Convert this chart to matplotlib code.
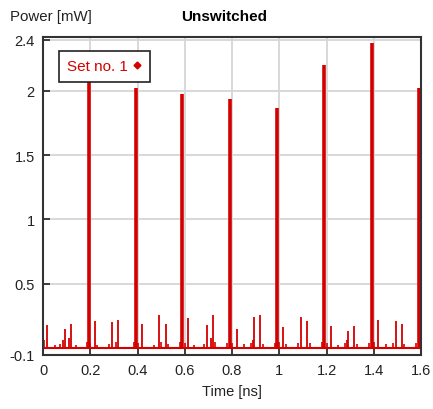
import matplotlib
matplotlib.use('Agg')
import matplotlib.pyplot as plt
from matplotlib.lines import Line2D

plt.rcParams['font.family'] = ['Liberation Sans', 'DejaVu Sans']

# main pulses (ns, mW)
main_t = [0.193, 0.392, 0.59, 0.79, 0.992, 1.189, 1.391, 1.593]
main_p = [2.20, 2.02, 1.98, 1.94, 1.87, 2.20, 2.37, 2.02]

# smaller side pulses
side_t = [0.018, 0.085, 0.093, 0.11, 0.117, 0.219, 0.29, 0.319, 0.418, 0.492,
          0.519, 0.615, 0.693, 0.712, 0.718, 0.82, 0.889, 0.894, 0.919, 1.017,
          1.092, 1.119, 1.218, 1.287, 1.292, 1.318, 1.417, 1.493, 1.518]
side_p = [0.18, 0.06, 0.15, 0.08, 0.19, 0.21, 0.20, 0.22, 0.19, 0.26,
          0.19, 0.23, 0.18, 0.08, 0.26, 0.15, 0.06, 0.24, 0.26, 0.16,
          0.24, 0.21, 0.17, 0.06, 0.13, 0.17, 0.22, 0.21, 0.19]

# tiny bumps on the baseline
tiny_t = [0.005, 0.05, 0.07, 0.14, 0.185, 0.2, 0.23, 0.28, 0.31, 0.385, 0.4,
          0.47, 0.5, 0.53, 0.58, 0.6, 0.64, 0.68, 0.73, 0.78, 0.8, 0.85,
          0.88, 0.93, 0.98, 1.0, 1.03, 1.08, 1.13, 1.18, 1.2, 1.25, 1.28,
          1.33, 1.38, 1.4, 1.45, 1.48, 1.53, 1.58]
tiny_p = [0.06, 0.02, 0.03, 0.02, 0.05, 0.04, 0.02, 0.03, 0.05, 0.05, 0.04,
          0.02, 0.05, 0.03, 0.05, 0.04, 0.02, 0.03, 0.05, 0.04, 0.04, 0.03,
          0.04, 0.03, 0.04, 0.05, 0.03, 0.04, 0.04, 0.05, 0.04, 0.02, 0.04,
          0.03, 0.04, 0.05, 0.03, 0.04, 0.03, 0.04]

xticks = [0, 0.2, 0.4, 0.6, 0.8, 1.0, 1.2, 1.4, 1.6]
xlabels = ['0', '0.2', '0.4', '0.6', '0.8', '1', '1.2', '1.4', '1.6']
yticks = [-0.055, 0.5, 1.0, 1.5, 2.0, 2.4]
ylabels = ['-0.1', '0.5', '1', '1.5', '2', '2.4']

red = '#d40000'

fig = plt.figure(figsize=(4.33, 4.10), dpi=100)
ax = fig.add_axes([43/433, 1 - 356/410, (421 - 43)/433, (356 - 38)/410])

ax.plot([0, 1.6], [0, 0], color=red, lw=1.5)
ax.vlines(tiny_t, 0, tiny_p, color=red, lw=1.2)
ax.vlines(side_t, 0, side_p, color=red, lw=1.3)
ax.vlines(main_t, 0, main_p, color=red, lw=2.6)

ax.set_xlim(0, 1.6)
ax.set_ylim(-0.055, 2.42)
ax.set_xticks(xticks)
ax.set_xticklabels(xlabels)
ax.set_yticks(yticks)
ax.set_yticklabels(ylabels)
ax.tick_params(direction='in', length=5, width=1.2, colors='#222222',
               labelsize=10.5, labelcolor='#222222', pad=6)
ax.grid(True, color='#d8d8d8', lw=1.4)
ax.set_axisbelow(True)
for s in ax.spines.values():
    s.set_color('#333333')
    s.set_linewidth(1.5)

ax.set_xlabel('Time [ns]', fontsize=10.5, color='#222222', labelpad=5)
fig.text(10/433, 1 - 17/410, 'Power [mW]', fontsize=10.8, color='#222222',
         va='center', ha='left')
fig.text(224.5/433, 1 - 17/410, 'Unswitched', fontsize=11, weight='bold',
         va='center', ha='center')

handle = Line2D([], [], color=red, marker='D', markersize=3.5, linestyle='none')
leg = ax.legend([handle], ['Set no. 1'], loc='upper left',
                bbox_to_anchor=((59 - 43)/378, 1 - (52 - 38)/318),
                markerfirst=False, fancybox=False, framealpha=1,
                edgecolor='#222222', fontsize=11, handlelength=0.6,
                handletextpad=0.3, borderpad=0.55, borderaxespad=0)
leg.get_frame().set_linewidth(1.2)
for t in leg.get_texts():
    t.set_color(red)

plt.savefig('out.png', dpi=100)
